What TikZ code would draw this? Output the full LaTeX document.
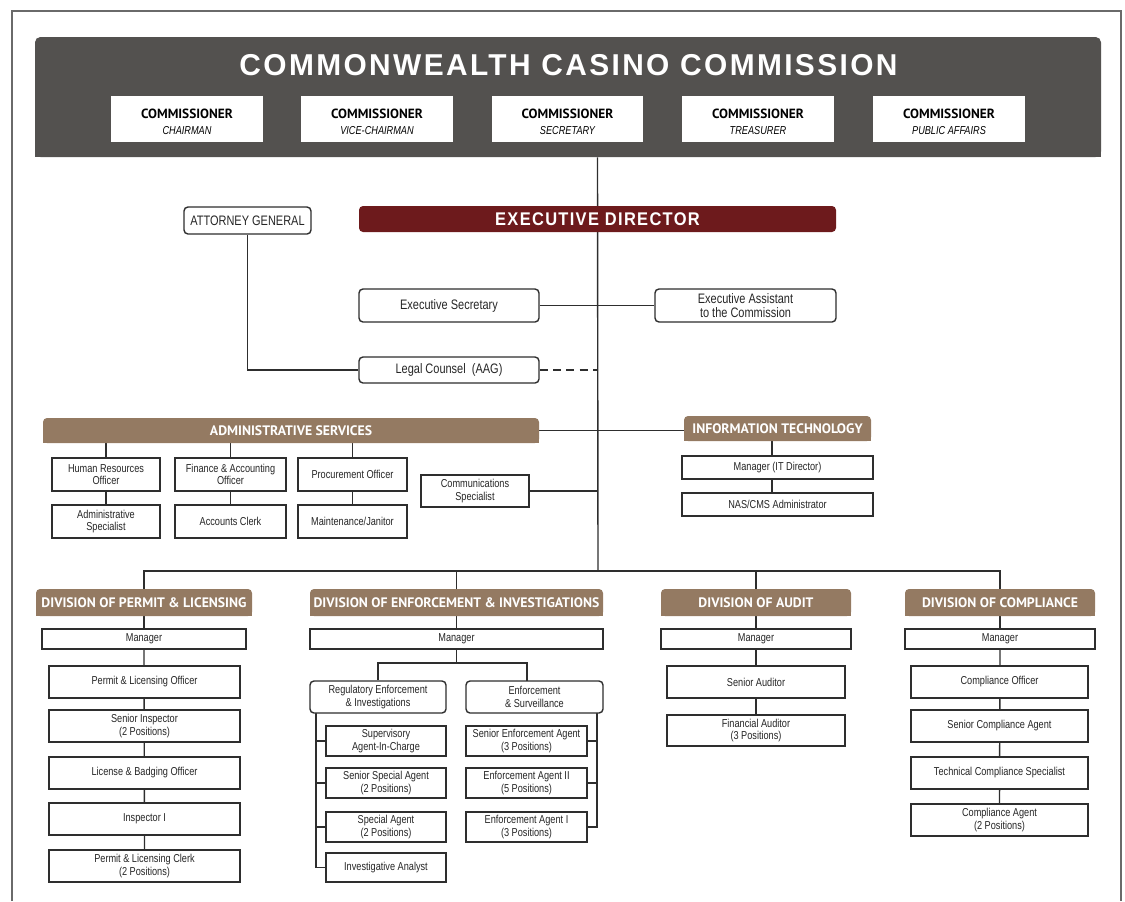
\documentclass[tikz,border=0pt]{standalone}
\usepackage{fontspec}
\setmainfont{Liberation Sans}
\newfontfamily\cond[FakeStretch=0.8]{Liberation Sans}
\newfontfamily\hum{PT Sans}
\usepackage{graphicx}
\definecolor{hdrc}{HTML}{53514F}
\definecolor{brn}{HTML}{947A62}
\definecolor{edred}{HTML}{6D1A1C}
\definecolor{lc}{HTML}{2E2E2E}
\definecolor{frm}{HTML}{6A6A6A}
\usetikzlibrary{calc}
\pgfdeclarelayer{bg}
\pgfsetlayers{bg,main}
\newcommand\bx[7]{%
  \pgfmathsetmacro\bxcx{(#3+#5)/2}%
  \pgfmathsetmacro\bxcy{(#4+#6)/2}%
  \pgfmathsetmacro\bxw{(#5-#3)*0.75}%
  \pgfmathsetmacro\bxh{(#6-#4)*0.75}%
  \node[#2, minimum width=\bxw pt, minimum height=\bxh pt] (#1) at (\bxcx,\bxcy) {#7};}
\newcommand\brownbar[6]{%
  \fill[brn, rounded corners=3pt] (#2,#3) rectangle (#4,#5);
  \fill[brn] (#2,{(#3+#5)/2}) rectangle (#4,#5);
  \bx{#1}{barlbl}{#2}{#3}{#4}{#5}{#6}}
\newcommand\comm[1]{{\hum\bfseries\fontsize{10}{12}\selectfont COMMISSIONER}\\[0.3pt]{\cond\itshape\fontsize{8.6}{10}\selectfont #1}}
\begin{document}
\begin{tikzpicture}[x=0.75pt,y=-0.75pt,
  conn/.style={draw=lc, line width=1.05pt},
  box/.style={draw=lc, line width=1.05pt, fill=white, align=center, inner sep=0pt,
    font=\cond\fontsize{8.6}{9.4}\selectfont, text=black!85},
  rbox/.style={box, rounded corners=3pt},
  midbox/.style={rbox, font=\cond\fontsize{10.3}{11}\selectfont},
  cbox/.style={fill=white, align=center, inner sep=0pt, text=black},
  ctext/.style={inner sep=0pt, align=center, text=black},
  barlbl/.style={inner sep=0pt, text=white, font=\hum\bfseries\fontsize{10.3}{12}\selectfont},
  inv/.style={inner sep=0pt}]
\useasboundingbox (0,0) rectangle (1125,901);
% frame
\draw[frm, line width=1.6pt] (12,901) -- (12,11) -- (1121,11) -- (1121,901);
% header
\fill[hdrc, rounded corners=4pt] (35,37) rectangle (1101,157);
\fill[hdrc] (35,100) rectangle (1101,157);
\bx{hdr}{inv}{35}{37}{1101}{157}{}
\node[inv, text=white] (title) at (568.5,65.5) {\resizebox{493.5pt}{15.8pt}{\bfseries\addfontfeatures{LetterSpace=8}COMMONWEALTH CASINO COMMISSION}};
\bx{c1}{cbox}{111}{96}{263}{142}{}
\bx{c2}{cbox}{301}{96}{453}{142}{}
\bx{c3}{cbox}{492}{96}{643}{142}{}
\bx{c4}{cbox}{682}{96}{834}{142}{}
\bx{c5}{cbox}{873}{96}{1025}{142}{}
\node[ctext] (t1) at (187,122) {\comm{CHAIRMAN}};
\node[ctext] (t2) at (377,122) {\comm{VICE-CHAIRMAN}};
\node[ctext] (t3) at (567.5,122) {\comm{SECRETARY}};
\node[ctext] (t4) at (758,122) {\comm{TREASURER}};
\node[ctext] (t5) at (949,122) {\comm{PUBLIC AFFAIRS}};
% executive level
\bx{ed}{inv, fill=edred, rounded corners=3pt}{359}{206}{836}{232}{\textcolor{white}{\resizebox{153.5pt}{9.6pt}{\bfseries\addfontfeatures{LetterSpace=8}EXECUTIVE DIRECTOR}}}
\bx{ag}{midbox}{184}{207}{311}{234}{ATTORNEY GENERAL}
\bx{es}{midbox}{359}{289}{539}{322}{Executive Secretary}
\bx{ea}{midbox}{655}{289}{836}{322}{Executive Assistant\\to the Commission}
\bx{lc}{midbox}{359}{357}{539}{383}{Legal Counsel\ \ (AAG)}
\coordinate (spine) at (598,571);
% administrative services
\brownbar{adm}{43}{418}{539}{443}{ADMINISTRATIVE SERVICES}
\bx{hr}{box}{52}{458}{160}{491}{Human Resources\\Officer}
\bx{asp}{box}{52}{505}{160}{538}{Administrative\\Specialist}
\bx{fin}{box}{175}{458}{286}{491}{Finance \& Accounting\\Officer}
\bx{acc}{box}{175}{505}{286}{538}{Accounts Clerk}
\bx{pro}{box}{298}{458}{407}{491}{Procurement Officer}
\bx{mai}{box}{298}{505}{407}{538}{Maintenance/Janitor}
\bx{com}{box}{421}{475}{529}{507}{Communications\\Specialist}
% IT
\brownbar{it}{684}{416}{871}{441}{INFORMATION TECHNOLOGY}
\bx{itm}{box}{682}{456}{873}{479}{Manager (IT Director)}
\bx{nas}{box}{682}{493}{873}{516}{NAS/CMS Administrator}
\coordinate (itdrop) at (772,441);
% divisions
\brownbar{dpl}{36}{589}{252}{616}{DIVISION OF PERMIT \& LICENSING}
\brownbar{dei}{310}{589}{603}{616}{DIVISION OF ENFORCEMENT \& INVESTIGATIONS}
\brownbar{dau}{661}{589}{851}{616}{DIVISION OF AUDIT}
\brownbar{dco}{905}{589}{1095}{616}{DIVISION OF COMPLIANCE}
% permit & licensing
\bx{plm}{box}{42}{629}{246}{649}{Manager}
\bx{pl1}{box}{49}{666}{240}{698}{Permit \& Licensing Officer}
\bx{pl2}{box}{49}{710}{240}{742}{Senior Inspector\\(2 Positions)}
\bx{pl3}{box}{49}{757}{240}{789}{License \& Badging Officer}
\bx{pl4}{box}{49}{803}{240}{835}{Inspector I}
\bx{pl5}{box}{49}{850}{240}{882}{Permit \& Licensing Clerk\\(2 Positions)}
% enforcement
\bx{eim}{box}{310}{629}{603}{649}{Manager}
\bx{rei}{rbox}{310}{681}{446}{713}{Regulatory Enforcement\\\& Investigations}
\bx{esv}{rbox}{466}{681}{603}{713}{Enforcement\\\& Surveillance}
\bx{r1}{box}{326}{726}{446}{756}{Supervisory\\Agent-In-Charge}
\bx{r2}{box}{326}{768}{446}{798}{Senior Special Agent\\(2 Positions)}
\bx{r3}{box}{326}{812}{446}{842}{Special Agent\\(2 Positions)}
\bx{r4}{box}{326}{853}{446}{882}{Investigative Analyst}
\bx{s1}{box}{466}{726}{587}{756}{Senior Enforcement Agent\\(3 Positions)}
\bx{s2}{box}{466}{768}{587}{798}{Enforcement Agent II\\(5 Positions)}
\bx{s3}{box}{466}{812}{587}{842}{Enforcement Agent I\\(3 Positions)}
% audit
\bx{aum}{box}{661}{629}{851}{649}{Manager}
\bx{au1}{box}{667}{666}{845}{698}{Senior Auditor}
\bx{au2}{box}{667}{715}{845}{746}{Financial Auditor\\(3 Positions)}
% compliance
\bx{com0}{box}{905}{629}{1095}{649}{Manager}
\bx{co1}{box}{911}{666}{1088}{698}{Compliance Officer}
\bx{co2}{box}{911}{710}{1088}{742}{Senior Compliance Agent}
\bx{co3}{box}{911}{757}{1088}{789}{Technical Compliance Specialist}
\bx{co4}{box}{911}{804}{1088}{836}{Compliance Agent\\(2 Positions)}
\coordinate (esplit) at (456.5,663);
\coordinate (esvdrop) at (527,681);
\coordinate (lsp) at (316,713);
\coordinate (rsp) at (597,713);
\begin{pgfonlayer}{bg}
\draw[conn] (hdr.south -| ed.center) -- (spine);
\draw[conn] (es.east) -- (ea.west);
\draw[conn] (ag.south) |- (lc.west);
\draw[conn, dash pattern=on 6pt off 4pt] (lc.east) -- (lc.east -| spine);
\draw[conn] (adm.east) -- (adm.east -| it.west);
\draw[conn] (com.east) -- (com.east -| spine);
\foreach \a/\b in {hr/asp, fin/acc, pro/mai}{
  \draw[conn] (adm.south -| \a.north) -- (\a.north);
  \draw[conn] (\a.south) -- (\b.north);}
\draw[conn] (itdrop) -- (itdrop |- nas.north);
% division bus
\draw[conn] (dpl.north) -- (dpl.north |- spine) -- (dco.north |- spine) -- (dco.north);
\draw[conn] (dei.north |- spine) -- (dei.north);
\draw[conn] (dau.north |- spine) -- (dau.north);
\draw[conn] (dpl.south) -- (plm.north);
\draw[conn] (plm.south) -- (pl5.north);
\draw[conn] (dau.south) -- (aum.north);
\draw[conn] (aum.south) -- (au2.north);
\draw[conn] (dco.south) -- (com0.north);
\draw[conn] (com0.south) -- (co4.north);
\draw[conn] (dei.south) -- (eim.north);
\draw[conn] (eim.south) -- (esplit);
\draw[conn] (rei.north) |- (esplit) -| (esvdrop);
\draw[conn] (lsp) |- (r4.west);
\foreach \n in {r1,r2,r3}{\draw[conn] (\n.west) -- (\n.west -| lsp);}
\draw[conn] (rsp) |- (s3.east);
\foreach \n in {s1,s2}{\draw[conn] (\n.east) -- (\n.east -| rsp);}
\end{pgfonlayer}
\end{tikzpicture}
\end{document}
